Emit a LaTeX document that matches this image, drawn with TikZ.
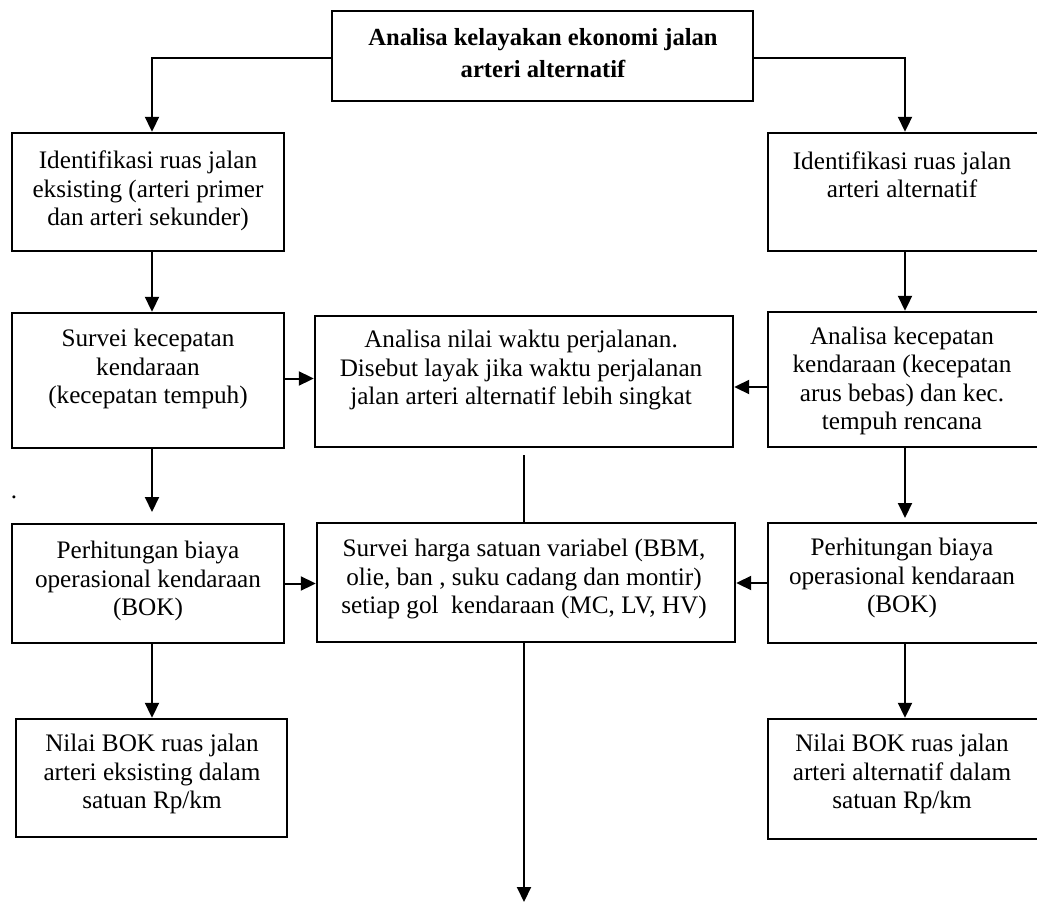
\documentclass[tikz,border=0pt]{standalone}
\usepackage{fontspec}
\setmainfont{Liberation Serif}
\usetikzlibrary{arrows.meta}
\tikzset{
  box/.style={draw=black, line width=1.2pt, inner sep=0pt, rectangle},
  txt/.style={inner sep=0pt, align=center, font=\fontsize{12.6}{14.15}\selectfont},
  arr/.style={line width=1pt, -{Triangle[width=7pt,length=7.5pt]}},
  ln/.style={line width=1pt}
}
\begin{document}
\begin{tikzpicture}[x=0.5pt,y=-0.5pt]
\useasboundingbox (0,0) rectangle (1037,903);
\clip (0,0) rectangle (1037,903);
% boxes
\node[box, minimum width=210.5pt, minimum height=45pt] (top) at (542.5,56) {};
\node[box, minimum width=136pt, minimum height=59pt] (L1) at (148,192) {};
\node[box, minimum width=137pt, minimum height=59pt] (R1) at (905,192) {};
\node[box, minimum width=136pt, minimum height=67.5pt] (L2) at (148,380.5) {};
\node[box, minimum width=209pt, minimum height=65.5pt] (M2) at (524,381.5) {};
\node[box, minimum width=137pt, minimum height=67.5pt] (R2) at (905,379.5) {};
\node[box, minimum width=136pt, minimum height=59.5pt] (L3) at (148,583.5) {};
\node[box, minimum width=209pt, minimum height=59.5pt] (M3) at (526,582.5) {};
\node[box, minimum width=137pt, minimum height=60pt] (R3) at (905,583) {};
\node[box, minimum width=135.5pt, minimum height=59pt] (L4) at (151.5,778) {};
\node[box, minimum width=137pt, minimum height=60pt] (R4) at (905,779) {};
% texts
\node[inner sep=0pt, align=center, font=\fontsize{12.3}{16}\selectfont\bfseries] (t0) at (543,53) {Analisa kelayakan ekonomi jalan\\arteri alternatif};
\node[txt] (tL1) at (148,191) {Identifikasi ruas jalan\\eksisting (arteri primer\\dan arteri sekunder)};
\node[txt] (tR1) at (902,175) {Identifikasi ruas jalan\\arteri alternatif};
\node[txt] (tL2) at (148,369) {Survei kecepatan\\kendaraan\\(kecepatan tempuh)};
\node[txt] (tM2) at (521,370) {Analisa nilai waktu perjalanan.\\Disebut layak jika waktu perjalanan\\jalan arteri alternatif lebih singkat};
\node[txt] (tR2) at (902,381) {Analisa kecepatan\\kendaraan (kecepatan\\arus bebas) dan kec.\\tempuh rencana};
\node[txt] (tL3) at (148,581) {Perhitungan biaya\\operasional kendaraan\\(BOK)};
\node[txt] (tM3) at (524,579) {Survei harga satuan variabel (BBM,\\olie, ban , suku cadang dan montir)\\setiap gol\ \ kendaraan (MC, LV, HV)};
\node[txt] (tR3) at (902,578) {Perhitungan biaya\\operasional kendaraan\\(BOK)};
\node[txt] (tL4) at (152,774) {Nilai BOK ruas jalan\\arteri eksisting dalam\\satuan Rp/km};
\node[txt] (tR4) at (902,774) {Nilai BOK ruas jalan\\arteri alternatif dalam\\satuan Rp/km};
\node[txt] (dot) at (14,497) {.};
% free-end coordinates
\coordinate (m2gap) at (524,455);
\coordinate (l3tip) at (152,512);
\coordinate (r3tip) at (905,518);
\coordinate (endtip) at (524,902);
% connectors
\draw[arr] ([yshift=-1pt]top.west) -| ([xshift=2pt]L1.north);
\draw[arr] ([yshift=-1pt]top.east) -| (R1.north);
\draw[arr] ([xshift=2pt]L1.south) -- ([xshift=2pt]L2.north);
\draw[arr] (R1.south) -- (R2.north);
\draw[arr] ([yshift=1pt]L2.east) -- ([yshift=1pt]L2.east -| M2.west);
\draw[arr] ([yshift=-3.75pt]R2.west) -- ([yshift=-3.75pt]R2.west -| M2.east);
\draw[ln] (m2gap) -- (m2gap |- M3.north);
\draw[arr] ([xshift=2pt]L2.south) -- (l3tip);
\draw[arr] (R2.south) -- (r3tip);
\draw[arr] (L3.east) -- (L3.east -| M3.west);
\draw[arr] (R3.west) -- (R3.west -| M3.east);
\draw[arr] ([xshift=2pt]L3.south) -- ([xshift=2pt]L3.south |- L4.north);
\draw[arr] (R3.south) -- (R4.north);
\draw[arr] (M3.south -| endtip) -- (endtip);
\end{tikzpicture}
\end{document}
